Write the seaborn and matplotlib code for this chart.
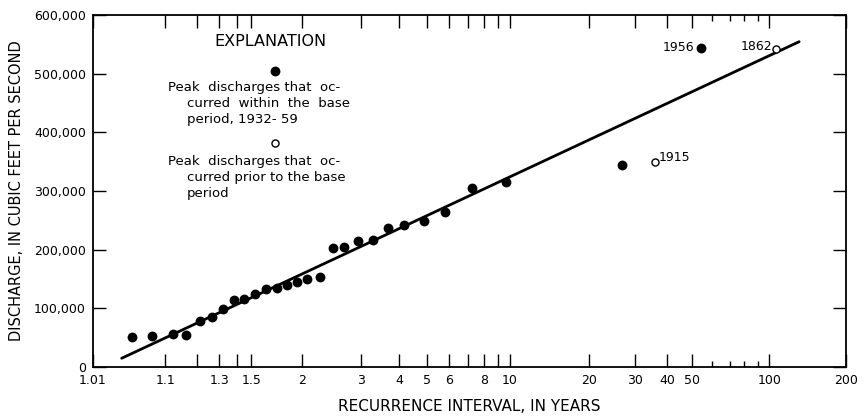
import numpy as np
import pandas as pd
import matplotlib
matplotlib.use("Agg")
import matplotlib.pyplot as plt
import seaborn as sns

# Annual peak discharges, base period 1932-59 (recurrence interval, years ; discharge, cfs)
base_interval = [1.041, 1.071, 1.120, 1.158, 1.210, 1.262, 1.316, 1.385, 1.445,
                 1.531, 1.621, 1.719, 1.818, 1.935, 2.056, 2.252, 2.447, 2.655,
                 2.921, 3.281, 3.667, 4.139, 4.854, 5.804, 7.262, 9.66, 26.6, 54.2]
base_discharge = [50600, 52800, 55700, 55100, 77900, 85700, 98300, 113600, 115400,
                  124400, 132400, 134600, 140300, 144300, 150500, 153900, 203300, 204500,
                  214300, 215900, 237400, 241500, 248300, 263700, 304600, 315300, 344300, 544200]

# Historical peaks prior to the base period
hist_year = [1915, 1862]
hist_interval = [35.8, 106.3]
hist_discharge = [349900, 542000]

# Fitted frequency curve (straight line on Gumbel paper)
curve_interval = [1.0293, 131.0]
curve_discharge = [14800, 554500]

xtick_values = [1.01, 1.1, 1.2, 1.3, 1.4, 1.5, 2, 3, 4, 5, 6, 7, 8, 9, 10,
                20, 30, 40, 50, 100, 200]
xtick_labels = ["1.01", "1.1", "", "1.3", "", "1.5", "2", "3", "4", "5", "6", "",
                "8", "", "10", "20", "30", "40", "50", "100", "200"]
xminor_values = [60, 70, 80, 90]
ytick_values = [0, 100000, 200000, 300000, 400000, 500000, 600000]


def gumbel_forward(t):
    t = np.asarray(t, dtype=float)
    with np.errstate(divide="ignore", invalid="ignore"):
        p = 1.0 - 1.0 / t
        return -np.log(-np.log(p))


def gumbel_inverse(y):
    y = np.asarray(y, dtype=float)
    with np.errstate(over="ignore", divide="ignore", invalid="ignore"):
        return 1.0 / (1.0 - np.exp(-np.exp(-y)))


sns.set_theme(style="white")
plt.rcParams["font.family"] = ["DejaVu Sans"]
plt.rcParams["text.color"] = "black"
plt.rcParams["axes.labelcolor"] = "black"
plt.rcParams["xtick.color"] = "black"
plt.rcParams["ytick.color"] = "black"

fig = plt.figure(figsize=(8.65, 4.17), dpi=100)
ax = fig.add_axes([0.1075, 0.12, 0.8705, 0.844])
ax.set_xscale("function", functions=(gumbel_forward, gumbel_inverse))

base_df = pd.DataFrame({"interval": base_interval, "discharge": base_discharge})
hist_df = pd.DataFrame({"interval": hist_interval, "discharge": hist_discharge})
curve_df = pd.DataFrame({"interval": curve_interval, "discharge": curve_discharge})

sns.lineplot(data=curve_df, x="interval", y="discharge", ax=ax,
             color="black", linewidth=2.0, sort=False)
sns.scatterplot(data=base_df, x="interval", y="discharge", ax=ax,
                color="black", s=50, edgecolor="black", linewidth=0, zorder=3)
sns.scatterplot(data=hist_df, x="interval", y="discharge", ax=ax,
                facecolor="white", edgecolor="black", s=26, linewidth=1.0, zorder=3)

ax.set_xlim(1.01, 200)
ax.set_ylim(0, 600000)

ax.set_xticks(xtick_values)
ax.set_xticklabels(xtick_labels)
ax.set_xticks(xminor_values, minor=True)
ax.set_yticks(ytick_values)
ax.set_yticklabels(["0" if v == 0 else f"{v:,}" for v in ytick_values])

ax.tick_params(axis="both", which="major", direction="in", length=9.5, width=1.0,
               labelsize=9, top=True, right=True, bottom=True, left=True, pad=5)
ax.tick_params(axis="x", which="minor", direction="in", length=4, width=1.0,
               top=True, bottom=True)
ax.tick_params(axis="y", which="major", labelright=False)

for spine in ax.spines.values():
    spine.set_color("black")
    spine.set_linewidth(1.3)

ax.set_xlabel("RECURRENCE INTERVAL, IN YEARS", fontsize=11, labelpad=9)
ax.set_ylabel("DISCHARGE, IN CUBIC FEET PER SECOND", fontsize=10.5, labelpad=7)

# Labels on notable floods
ax.annotate("1956", xy=(54.2, 544200), xytext=(-5, 0), textcoords="offset points",
            ha="right", va="center", fontsize=9)
ax.annotate("1862", xy=(106.3, 542000), xytext=(-3, 2), textcoords="offset points",
            ha="right", va="center", fontsize=9)
ax.annotate("1915", xy=(35.8, 349900), xytext=(3, 3), textcoords="offset points",
            ha="left", va="center", fontsize=9)

# Explanation block
ax.text(0.235, 0.925, "EXPLANATION", transform=ax.transAxes,
        ha="center", va="center", fontsize=11.5)
ax.scatter([0.242], [0.842], transform=ax.transAxes, s=50, color="black",
           linewidths=0, zorder=3)
expl_fill = ["Peak  discharges that  oc-", "curred  within  the  base",
             "period, 1932- 59"]
expl_open = ["Peak  discharges that  oc-", "curred prior to the base", "period"]
for i, line in enumerate(expl_fill):
    ax.text(0.1 if i == 0 else 0.125, 0.795 - i * 0.046, line,
            transform=ax.transAxes, ha="left", va="center", fontsize=9.5)
ax.scatter([0.242], [0.635], transform=ax.transAxes, s=26, facecolor="white",
           edgecolor="black", linewidths=1.0, zorder=3)
for i, line in enumerate(expl_open):
    ax.text(0.1 if i == 0 else 0.125, 0.585 - i * 0.046, line,
            transform=ax.transAxes, ha="left", va="center", fontsize=9.5)

fig.savefig("out.png", dpi=100)
